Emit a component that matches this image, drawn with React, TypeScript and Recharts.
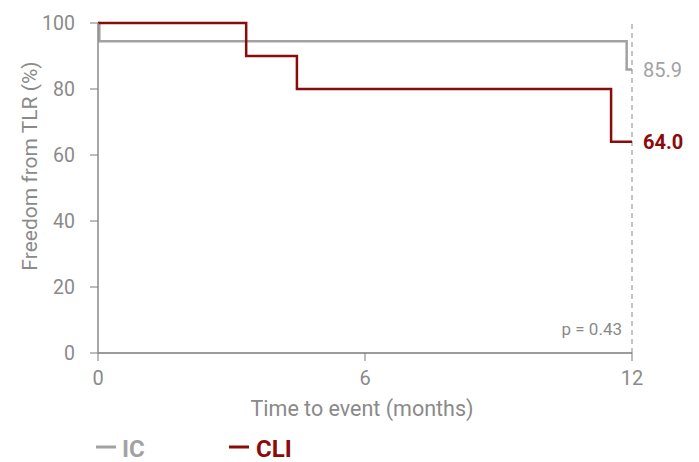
import React from 'react';
import { LineChart, Line, XAxis, YAxis, ReferenceLine, LabelList, Label } from 'recharts';

const icData = [
  { t: 0, v: 100 },
  { t: 0.03, v: 94.5 },
  { t: 11.88, v: 85.9 },
  { t: 12, v: 85.9 },
];
const cliData = [
  { t: 0, v: 100 },
  { t: 3.33, v: 90 },
  { t: 4.47, v: 80 },
  { t: 11.53, v: 64 },
  { t: 12, v: 64 },
];
const xTicks = [0, 6, 12];
const yTicks = [0, 20, 40, 60, 80, 100];
const icFinal = '85.9';
const cliFinal = '64.0';
const pValue = 'p = 0.43';
const xTitle = 'Time to event (months)';
const yTitle = 'Freedom from TLR (%)';
const seriesNames = ['IC', 'CLI'];

const FONT = 'Roboto, "Noto Sans", sans-serif';
const GREY = '#a2a2a4';
const RED = '#8b0a0a';
const AXIS = '#7a7a7a';
const TEXT = '#8a8a8a';

const endLabel = (text: string, color: string, bold: boolean, count: number) => (props: any) => {
  const { x, y, index } = props;
  if (index !== count - 1) return null;
  return (
    <text x={x + 11} y={y} dy={7} fill={color} fontSize={20} fontWeight={bold ? 700 : 400} fontFamily={FONT}>
      {text}
    </text>
  );
};

const XTitle = (props: any) => {
  const vb = props.viewBox || {};
  const cx = (vb.x ?? 98) + (vb.width ?? 534) / 2 - 3;
  return (
    <text x={cx} y={416} textAnchor="middle" fill={TEXT} fontSize={21.5} fontFamily={FONT}>
      {xTitle}
    </text>
  );
};

const YTitle = () => (
  <text x={0} y={0} transform="translate(37,166) rotate(-90)" textAnchor="middle" fill={TEXT} fontSize={21} fontFamily={FONT}>
    {yTitle}
  </text>
);

export default function App() {
  return (
    <div style={{ position: 'absolute', left: 0, top: 0, width: 699, height: 462, background: '#fff', fontFamily: FONT }}>
      <LineChart width={699} height={462} margin={{ top: 23, right: 67, bottom: 79, left: 38 }}>
        <XAxis
          dataKey="t"
          type="number"
          domain={[0, 12]}
          ticks={xTicks}
          height={30}
          tickSize={8}
          tickMargin={10}
          stroke={AXIS}
          tick={{ fill: TEXT, fontSize: 20, fontFamily: FONT }}
          tickLine={{ stroke: AXIS }}
          axisLine={{ stroke: AXIS, strokeWidth: 1.5 }}
          allowDuplicatedCategory={false}
        >
          <Label content={<XTitle />} />
        </XAxis>
        <YAxis
          type="number"
          domain={[0, 100]}
          ticks={yTicks}
          width={60}
          tickSize={8}
          tickMargin={15}
          stroke={AXIS}
          tick={{ fill: TEXT, fontSize: 19.5, fontFamily: FONT }}
          tickLine={{ stroke: AXIS }}
          axisLine={{ stroke: '#8a8a8a', strokeWidth: 1.5 }}
        >
          <Label content={<YTitle />} />
        </YAxis>
        <ReferenceLine x={12} stroke="#b0b0b0" strokeWidth={1.5} strokeDasharray="5 4" />
        <Line data={icData} dataKey="v" type="stepAfter" stroke={GREY} strokeWidth={2.5} dot={false} isAnimationActive={false}>
          <LabelList dataKey="v" content={endLabel(icFinal, GREY, false, icData.length)} />
        </Line>
        <Line data={cliData} dataKey="v" type="stepAfter" stroke={RED} strokeWidth={2.5} dot={false} isAnimationActive={false}>
          <LabelList dataKey="v" content={endLabel(cliFinal, RED, true, cliData.length)} />
        </Line>
      </LineChart>
      <svg width={699} height={462} style={{ position: 'absolute', left: 0, top: 0, pointerEvents: 'none' }}>
        <text x={622} y={335} textAnchor="end" fill={TEXT} fontSize={17} fontFamily={FONT}>{pValue}</text>
        <line x1={96} x2={116} y1={447} y2={447} stroke={GREY} strokeWidth={3} />
        <text x={122} y={456.5} fill={GREY} fontSize={24} fontWeight={700} fontFamily={FONT}>{seriesNames[0]}</text>
        <line x1={229} x2={249} y1={447} y2={447} stroke={RED} strokeWidth={3} />
        <text x={256} y={456.5} fill={RED} fontSize={24} fontWeight={700} fontFamily={FONT}>{seriesNames[1]}</text>
      </svg>
    </div>
  );
}
